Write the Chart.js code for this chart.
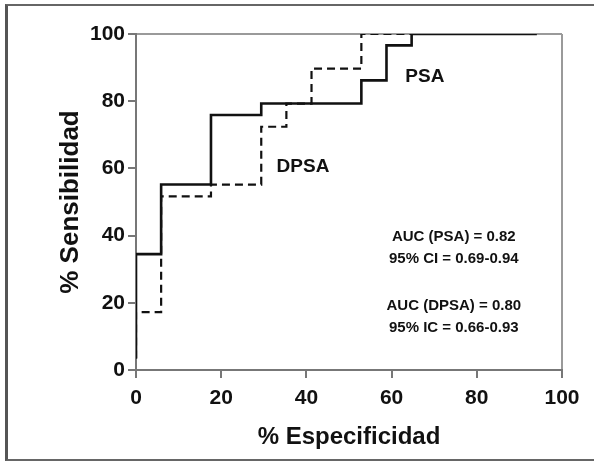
<!DOCTYPE html>
<html>
<head>
<meta charset="utf-8">
<script src="https://cdn.jsdelivr.net/npm/chart.js@4.4.0/dist/chart.umd.min.js"></script>
<style>
  html, body { margin: 0; padding: 0; background: #fff; overflow: hidden; }
  #wrap { position: relative; width: 594px; height: 462px; }
  #frame { position: absolute; left: 5px; top: 4px; width: 620px; height: 453px;
           border-left: 3px solid #555; border-top: 2px solid #666; border-bottom: 2px solid #666; }
  canvas { position: absolute; left: 0; top: 0; }
</style>
</head>
<body>
<div id="wrap">
  <div id="frame"></div>
  <canvas id="roc" width="594" height="462"></canvas>
</div>
<script>
// ROC curves (% especificidad on x, % sensibilidad on y)
var psaX  = [0, 0, 5.9, 17.6, 29.4, 52.9, 58.8, 64.7, 94.1];
var psaY  = [3.4, 34.5, 55.2, 75.9, 79.3, 86.2, 96.6, 100, 100];
var dpsaX = [0, 0, 5.9, 17.6, 29.4, 35.3, 41.2, 52.9, 94.1];
var dpsaY = [3.4, 17.2, 51.7, 55.2, 72.4, 79.3, 89.7, 100, 100];

var tickValues = [0, 20, 40, 60, 80, 100];

// text notes placed in data units
var noteText = ['PSA', 'DPSA', 'AUC (PSA) = 0.82', '95% CI = 0.69-0.94', 'AUC (DPSA) = 0.80', '95% IC = 0.66-0.93'];
var noteX    = [67.8, 39.2, 74.6, 74.6, 74.6, 74.6];
var noteY    = [87.3, 60.4, 39.6, 33.0, 19.0, 12.4];
var noteSize = [19, 19, 15, 15, 15, 15];

var fontFam = "'Liberation Sans', Arial, sans-serif";

function toPoints(xs, ys) {
    return xs.map(function (x, i) { return { x: x, y: ys[i] }; });
}

var notesPlugin = {
    id: 'notes',
    afterDatasetsDraw: function (chart) {
        var ctx = chart.ctx;
        var xs = chart.scales.x, ys = chart.scales.y;
        ctx.save();
        ctx.fillStyle = '#111';
        ctx.textAlign = 'center';
        ctx.textBaseline = 'middle';
        noteText.forEach(function (t, i) {
            ctx.font = 'bold ' + noteSize[i] + 'px ' + fontFam;
            ctx.fillText(t, xs.getPixelForValue(noteX[i]), ys.getPixelForValue(noteY[i]));
        });
        ctx.restore();
    }
};

var boxLine = function (c) {
    return c.tick && c.tick.value === 100 ? '#9a9a9a' : 'rgba(0,0,0,0)';
};

new Chart(document.getElementById('roc').getContext('2d'), {
    type: 'line',
    data: {
        datasets: [{
            label: 'PSA',
            data: toPoints(psaX, psaY),
            borderColor: '#111',
            borderWidth: 2.6,
            stepped: 'before',
            pointRadius: 0,
            fill: false
        }, {
            label: 'DPSA',
            data: toPoints(dpsaX, dpsaY),
            borderColor: '#111',
            borderWidth: 2.2,
            borderDash: [8, 5],
            stepped: 'before',
            pointRadius: 0,
            fill: false
        }]
    },
    options: {
        responsive: false,
        animation: false,
        layout: { padding: { top: 34, right: 32, left: 0, bottom: 0 } },
        plugins: { legend: { display: false }, tooltip: { enabled: false } },
        scales: {
            x: {
                type: 'linear',
                min: 0,
                max: 100,
                afterBuildTicks: function (s) { s.ticks = tickValues.map(function (v) { return { value: v }; }); },
                afterFit: function (s) { s.height = 92; },
                grid: { color: boxLine, lineWidth: 2, tickColor: '#777', tickLength: 8, tickWidth: 2 },
                border: { color: '#777', width: 2 },
                ticks: { color: '#111', padding: 8, font: { family: fontFam, size: 21, weight: 'bold' } },
                title: {
                    display: true,
                    text: '% Especificidad',
                    color: '#111',
                    padding: { top: 0, bottom: 10 },
                    font: { family: fontFam, size: 24, weight: 'bold' }
                }
            },
            y: {
                type: 'linear',
                min: 0,
                max: 100,
                afterBuildTicks: function (s) { s.ticks = tickValues.map(function (v) { return { value: v }; }); },
                afterFit: function (s) { s.width = 136; },
                grid: { color: boxLine, lineWidth: 2, tickColor: '#777', tickLength: 8, tickWidth: 2 },
                border: { color: '#777', width: 2 },
                ticks: { color: '#111', padding: 3, font: { family: fontFam, size: 21, weight: 'bold' } },
                title: {
                    display: true,
                    text: '% Sensibilidad',
                    color: '#111',
                    padding: { top: 55, bottom: 0 },
                    font: { family: fontFam, size: 26, weight: 'bold' }
                }
            }
        }
    },
    plugins: [notesPlugin]
});
</script>
</body>
</html>
